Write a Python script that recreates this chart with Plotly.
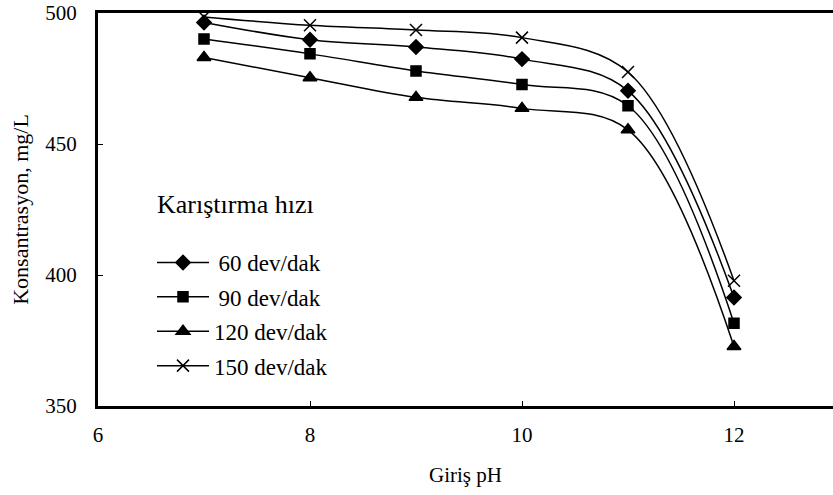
import plotly.graph_objects as go

# Giriş pH values
ph = [7, 8, 9, 10, 11, 12]

# Concentration (mg/L) for each stirring speed
speed_labels = ["\u200960 dev/dak", "\u200990 dev/dak", "120 dev/dak", "150 dev/dak"]
conc_60 = [496.4, 489.8, 487.0, 482.4, 470.3, 391.4]
conc_90 = [490.1, 484.4, 477.9, 472.7, 464.6, 381.6]
conc_120 = [483.0, 475.3, 467.8, 463.6, 455.4, 372.7]
conc_150 = [498.5, 495.3, 493.5, 490.6, 477.5, 397.8]

series = [conc_60, conc_90, conc_120, conc_150]
symbols = ["diamond", "square", "triangle-up", "x-thin-open"]
sizes = [11, 10, 12, 12]

FONT = "Liberation Serif, Times New Roman, serif"

fig = go.Figure()
for i, (name, ys, sym, sz) in enumerate(zip(speed_labels, series, symbols, sizes)):
    fig.add_trace(go.Scatter(
        x=ph, y=ys, name=name, mode="lines+markers",
        legendgroup=f"g{i}",
        line=dict(color="black", width=1.5, shape="spline", smoothing=1.0),
        marker=dict(symbol=sym, size=sz, color="black",
                    line=dict(color="black", width=1.5)),
    ))

fig.update_layout(
    width=833, height=495,
    margin=dict(l=98, r=0, t=13, b=89),
    paper_bgcolor="white", plot_bgcolor="white",
    font=dict(family=FONT, size=21, color="black"),
    showlegend=True,
    legend=dict(
        x=(152 - 98) / 735, y=1 - (241 - 13) / 393,
        xanchor="left", yanchor="top",
        bgcolor="rgba(0,0,0,0)", borderwidth=0,
        font=dict(family=FONT, size=23, color="black"),
        itemwidth=52, tracegroupgap=1.5,
    ),
    annotations=[dict(
        text="Karıştırma hızı", xref="paper", yref="paper",
        x=(155 - 98) / 735, y=1 - (205 - 13) / 393,
        xanchor="left", yanchor="middle", showarrow=False,
        font=dict(family=FONT, size=26, color="black"),
    )],
)

fig.update_xaxes(
    range=[6, 12.934], tick0=6, dtick=2,
    showgrid=False, zeroline=False,
    showline=True, linecolor="black", linewidth=3, mirror=True,
    ticks="inside", ticklen=5, tickwidth=1, tickcolor="black",
    ticklabelstandoff=8,
    title=dict(text="Giriş pH", standoff=22,
               font=dict(family=FONT, size=21, color="black")),
)
fig.update_yaxes(
    range=[350, 500], tick0=350, dtick=50,
    showgrid=False, zeroline=False,
    showline=True, linecolor="black", linewidth=3,
    ticks="inside", ticklen=5, tickwidth=1, tickcolor="black",
    ticklabelstandoff=14,
    title=dict(text="Konsantrasyon, mg/L", standoff=11,
               font=dict(family=FONT, size=22, color="black")),
)

fig.write_html("out.html")
